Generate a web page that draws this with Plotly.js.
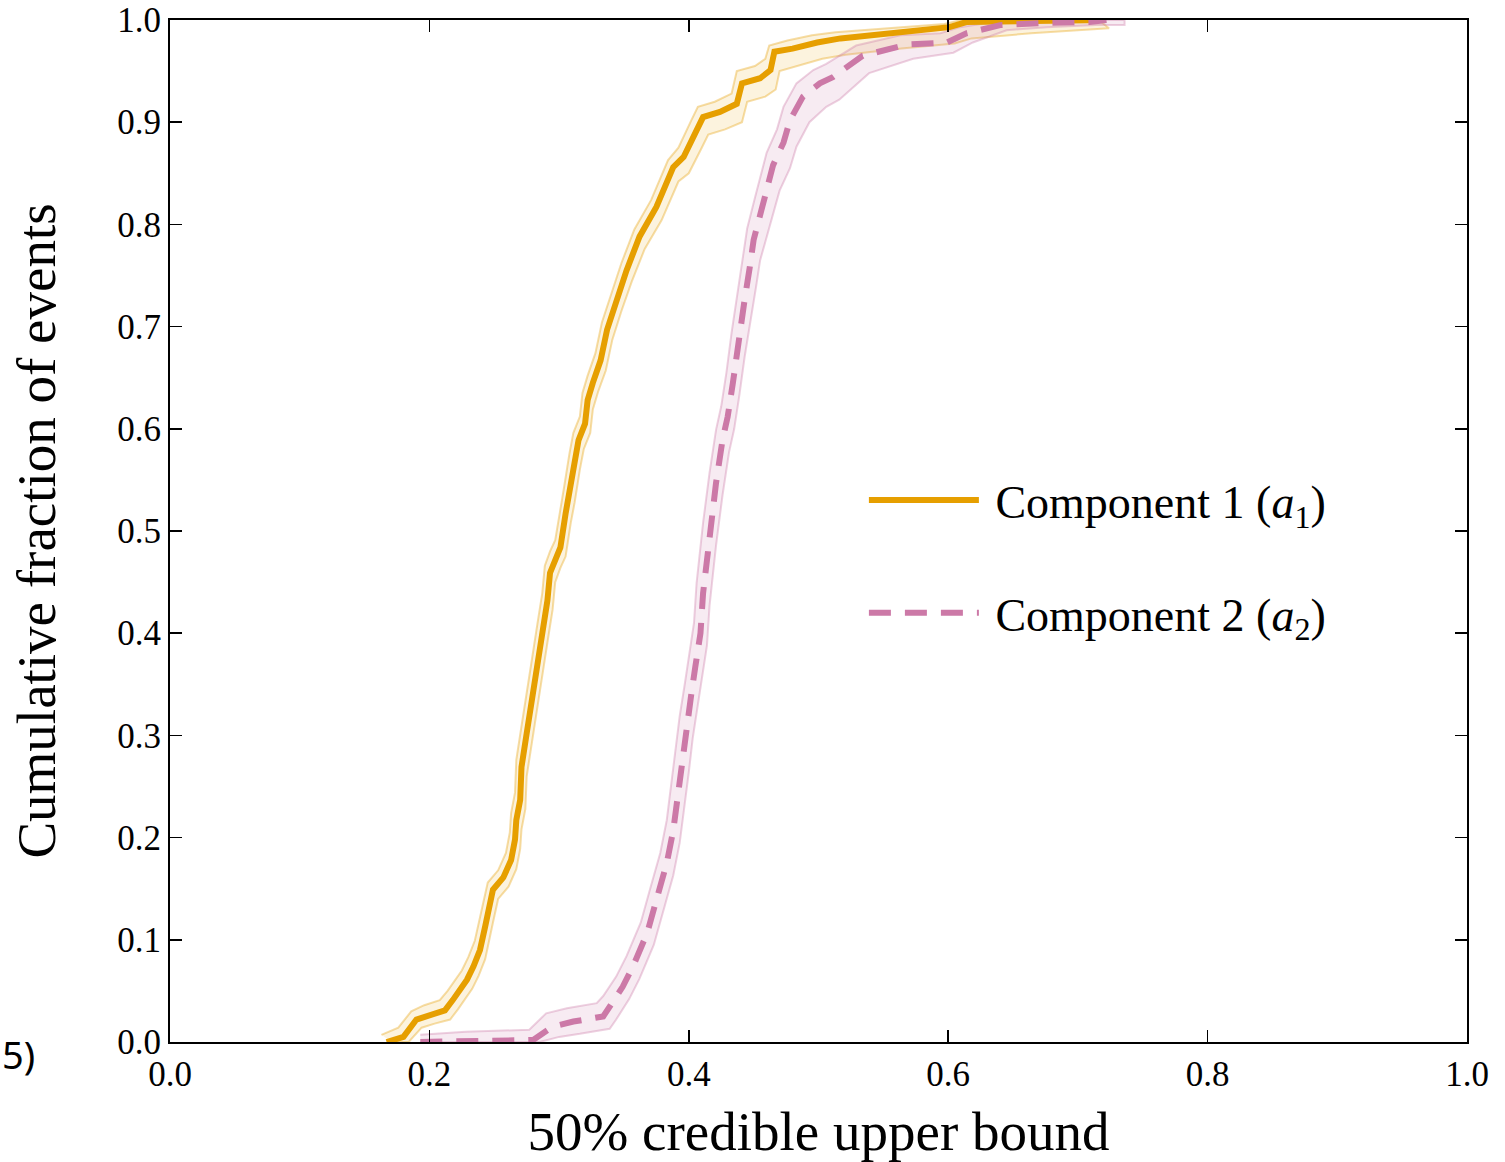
<!DOCTYPE html>
<html>
<head>
<meta charset="utf-8">
<script src="https://cdn.plot.ly/plotly-3.0.1.min.js"></script>
<style>html,body{margin:0;padding:0;background:#fff;}#chart{width:1505px;height:1162px;}</style>
</head>
<body>
<div id="chart"></div>
<script>
// Component 1 (a1) cumulative curve
const c1X = [0.167, 0.180, 0.190, 0.200, 0.212, 0.218, 0.229, 0.234, 0.239, 0.243, 0.245, 0.249, 0.257, 0.263, 0.266, 0.267, 0.270, 0.271, 0.275, 0.278, 0.283, 0.287, 0.291, 0.293, 0.297, 0.301, 0.305, 0.308, 0.312, 0.315, 0.320, 0.322, 0.326, 0.332, 0.337, 0.344, 0.352, 0.362, 0.375, 0.388, 0.396, 0.406, 0.411, 0.424, 0.437, 0.441, 0.455, 0.463, 0.466, 0.480, 0.499, 0.517, 0.560, 0.601, 0.614, 0.660, 0.720];
const c1Y = [0.000, 0.005, 0.022, 0.026, 0.031, 0.041, 0.061, 0.074, 0.090, 0.113, 0.126, 0.149, 0.161, 0.178, 0.198, 0.217, 0.237, 0.269, 0.302, 0.325, 0.367, 0.400, 0.432, 0.459, 0.473, 0.484, 0.517, 0.537, 0.569, 0.589, 0.605, 0.628, 0.645, 0.667, 0.697, 0.725, 0.755, 0.788, 0.817, 0.856, 0.866, 0.892, 0.905, 0.910, 0.918, 0.938, 0.943, 0.951, 0.969, 0.972, 0.978, 0.982, 0.988, 0.993, 0.998, 0.999, 1.000];
// Component 1 band edges
const c1UpX = [0.163, 0.176, 0.186, 0.196, 0.208, 0.214, 0.225, 0.230, 0.235, 0.239, 0.241, 0.245, 0.253, 0.259, 0.262, 0.263, 0.266, 0.267, 0.271, 0.274, 0.279, 0.283, 0.287, 0.289, 0.293, 0.297, 0.301, 0.304, 0.308, 0.311, 0.316, 0.318, 0.322, 0.328, 0.333, 0.340, 0.348, 0.358, 0.371, 0.384, 0.392, 0.402, 0.407, 0.420, 0.433, 0.437, 0.451, 0.459, 0.462, 0.476, 0.495, 0.513, 0.556, 0.597, 0.610, 0.656, 0.716];
const c1UpY = [0.007, 0.014, 0.030, 0.036, 0.041, 0.050, 0.070, 0.083, 0.099, 0.121, 0.134, 0.156, 0.168, 0.185, 0.205, 0.224, 0.244, 0.276, 0.309, 0.332, 0.374, 0.407, 0.439, 0.466, 0.480, 0.491, 0.524, 0.544, 0.576, 0.596, 0.612, 0.635, 0.652, 0.674, 0.704, 0.732, 0.762, 0.795, 0.824, 0.863, 0.875, 0.902, 0.915, 0.920, 0.928, 0.950, 0.955, 0.962, 0.975, 0.980, 0.985, 0.988, 0.992, 0.996, 1.000, 1.000, 1.000];
const c1LoX = [0.171, 0.184, 0.194, 0.204, 0.216, 0.222, 0.233, 0.238, 0.243, 0.247, 0.249, 0.253, 0.261, 0.267, 0.270, 0.271, 0.274, 0.275, 0.279, 0.282, 0.287, 0.291, 0.295, 0.297, 0.301, 0.305, 0.309, 0.312, 0.316, 0.319, 0.324, 0.326, 0.330, 0.336, 0.341, 0.348, 0.356, 0.366, 0.379, 0.392, 0.400, 0.410, 0.415, 0.428, 0.441, 0.445, 0.459, 0.467, 0.470, 0.484, 0.503, 0.521, 0.564, 0.605, 0.618, 0.664, 0.724];
const c1LoY = [0.000, 0.000, 0.014, 0.018, 0.022, 0.032, 0.052, 0.065, 0.081, 0.104, 0.117, 0.140, 0.152, 0.169, 0.189, 0.208, 0.228, 0.260, 0.293, 0.316, 0.358, 0.391, 0.423, 0.450, 0.464, 0.475, 0.508, 0.528, 0.560, 0.580, 0.596, 0.619, 0.636, 0.657, 0.687, 0.715, 0.744, 0.776, 0.804, 0.842, 0.850, 0.875, 0.888, 0.893, 0.900, 0.920, 0.925, 0.932, 0.950, 0.955, 0.962, 0.966, 0.972, 0.977, 0.982, 0.987, 0.992];

// Component 2 (a2) cumulative curve
const c2X = [0.193, 0.230, 0.280, 0.295, 0.311, 0.334, 0.339, 0.349, 0.357, 0.368, 0.375, 0.383, 0.388, 0.391, 0.395, 0.398, 0.402, 0.405, 0.409, 0.411, 0.416, 0.421, 0.426, 0.430, 0.434, 0.438, 0.443, 0.447, 0.450, 0.456, 0.465, 0.473, 0.478, 0.488, 0.501, 0.511, 0.534, 0.568, 0.599, 0.614, 0.640, 0.671, 0.709, 0.722];
const c2Y = [0.000, 0.001, 0.002, 0.015, 0.020, 0.025, 0.034, 0.054, 0.074, 0.107, 0.139, 0.175, 0.207, 0.237, 0.276, 0.309, 0.341, 0.367, 0.400, 0.439, 0.498, 0.547, 0.589, 0.612, 0.645, 0.684, 0.726, 0.758, 0.785, 0.814, 0.858, 0.880, 0.902, 0.925, 0.938, 0.944, 0.965, 0.976, 0.978, 0.987, 0.995, 0.997, 0.998, 1.000];
// Component 2 band edges
const c2UpX = [0.193, 0.228, 0.277, 0.290, 0.306, 0.329, 0.334, 0.344, 0.352, 0.363, 0.370, 0.378, 0.383, 0.386, 0.390, 0.393, 0.397, 0.400, 0.404, 0.406, 0.411, 0.416, 0.421, 0.425, 0.429, 0.433, 0.438, 0.442, 0.445, 0.451, 0.460, 0.468, 0.473, 0.483, 0.496, 0.506, 0.529, 0.563, 0.594, 0.609, 0.635, 0.666, 0.704, 0.736];
const c2UpY = [0.007, 0.010, 0.012, 0.028, 0.033, 0.038, 0.045, 0.064, 0.084, 0.117, 0.149, 0.185, 0.217, 0.247, 0.286, 0.319, 0.351, 0.377, 0.410, 0.449, 0.508, 0.557, 0.599, 0.622, 0.655, 0.694, 0.736, 0.768, 0.796, 0.826, 0.870, 0.893, 0.915, 0.938, 0.951, 0.957, 0.975, 0.985, 0.987, 0.993, 0.998, 1.000, 1.000, 1.000];
const c2LoX = [0.193, 0.235, 0.285, 0.300, 0.316, 0.339, 0.344, 0.354, 0.362, 0.373, 0.380, 0.388, 0.393, 0.396, 0.400, 0.403, 0.407, 0.410, 0.414, 0.416, 0.421, 0.426, 0.431, 0.435, 0.439, 0.443, 0.448, 0.452, 0.455, 0.461, 0.470, 0.478, 0.483, 0.493, 0.506, 0.516, 0.539, 0.573, 0.604, 0.619, 0.645, 0.676, 0.714, 0.736];
const c2LoY = [0.000, 0.000, 0.000, 0.005, 0.008, 0.013, 0.022, 0.042, 0.062, 0.095, 0.127, 0.163, 0.195, 0.225, 0.264, 0.297, 0.329, 0.355, 0.388, 0.427, 0.486, 0.535, 0.577, 0.600, 0.633, 0.670, 0.710, 0.740, 0.765, 0.792, 0.833, 0.855, 0.876, 0.900, 0.915, 0.922, 0.948, 0.962, 0.968, 0.978, 0.990, 0.993, 0.995, 0.995];

const seriesNames = ['\u00A0Component 1 (<i>a</i><sub>1</sub>)', '\u00A0Component 2 (<i>a</i><sub>2</sub>)'];
const xTicks = [0.0, 0.2, 0.4, 0.6, 0.8, 1.0];
const xTickText = ['0.0', '0.2', '0.4', '0.6', '0.8', '1.0'];
const yTicks = [0.0, 0.1, 0.2, 0.3, 0.4, 0.5, 0.6, 0.7, 0.8, 0.9, 1.0];
const yTickText = ['0.0', '0.1', '0.2', '0.3', '0.4', '0.5', '0.6', '0.7', '0.8', '0.9', '1.0'];
const xTitle = '50% credible upper bound';
const yTitle = 'Cumulative fraction of events';

const ORANGE = '#E69F00', PINK = '#CC79A7';
const FONT = 'Liberation Serif, DejaVu Serif, serif';

function band(upX, upY, loX, loY, fill, edge) {
  return {
    x: upX.concat(loX.slice().reverse()),
    y: upY.concat(loY.slice().reverse()),
    type: 'scatter', mode: 'lines', fill: 'toself',
    fillcolor: fill, line: {color: edge, width: 2},
    showlegend: false, hoverinfo: 'skip'
  };
}

const data = [
  band(c1UpX, c1UpY, c1LoX, c1LoY, 'rgba(230,159,0,0.13)', 'rgba(230,159,0,0.35)'),
  band(c2UpX, c2UpY, c2LoX, c2LoY, 'rgba(204,121,167,0.15)', 'rgba(204,121,167,0.35)'),
  {x: c1X, y: c1Y, type: 'scatter', mode: 'lines', name: seriesNames[0], legendgroup: 'a',
   line: {color: ORANGE, width: 6}},
  {x: c2X, y: c2Y, type: 'scatter', mode: 'lines', name: seriesNames[1], legendgroup: 'b',
   line: {color: PINK, width: 6, dash: '22px,14px'}}
];

const axisCommon = {
  showline: true, linecolor: '#000', linewidth: 2, mirror: 'ticks',
  ticks: 'inside', ticklen: 12, tickwidth: 1.5, tickcolor: '#000',
  showgrid: false, zeroline: false,
  tickfont: {family: FONT, size: 35, color: '#000'}
};

const layout = {
  width: 1505, height: 1162,
  margin: {l: 170, r: 38, t: 20, b: 120},
  paper_bgcolor: '#fff', plot_bgcolor: '#fff',
  font: {family: FONT, color: '#000'},
  xaxis: Object.assign({}, axisCommon, {
    range: [0, 1], tickvals: xTicks, ticktext: xTickText,
    title: {text: xTitle, font: {family: FONT, size: 55, color: '#000'}, standoff: 18}
  }),
  yaxis: Object.assign({}, axisCommon, {
    range: [0, 1], tickvals: yTicks, ticktext: yTickText,
    title: {text: yTitle, font: {family: FONT, size: 55, color: '#000'}, standoff: 44}
  }),
  showlegend: true,
  legend: {
    x: 0.535, y: 0.566, xanchor: 'left', yanchor: 'top',
    bgcolor: 'rgba(0,0,0,0)', borderwidth: 0,
    font: {family: FONT, size: 46, color: '#000'},
    itemwidth: 110, traceorder: 'grouped', tracegroupgap: 50
  },
  annotations: [
    {text: '5)', xref: 'paper', yref: 'paper', x: -0.131, y: -0.012, xanchor: 'left', yanchor: 'middle',
     showarrow: false, font: {family: 'Noto Sans, sans-serif', size: 38, color: '#000'}}
  ]
};

Plotly.newPlot('chart', data, layout, {displayModeBar: false, staticPlot: true});
</script>
</body>
</html>
